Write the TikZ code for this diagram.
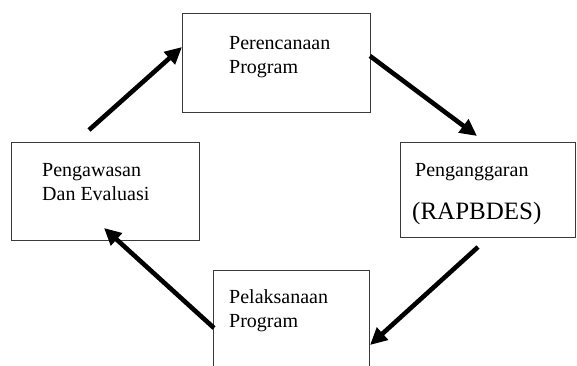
\documentclass[tikz,border=0pt]{standalone}
\usepackage{fontspec}
\setmainfont{Liberation Serif}
\usetikzlibrary{arrows.meta}
\definecolor{boxgray}{HTML}{3A3A3A}
\begin{document}
\begin{tikzpicture}[x=1pt,y=-1pt,
  box/.style={draw=boxgray, line width=1.2pt, inner sep=0pt, anchor=north west},
  lbl/.style={anchor=base west, inner sep=0pt, font=\fontsize{20}{24}\selectfont},
  biglbl/.style={anchor=base west, inner sep=0pt, font=\fontsize{25}{30}\selectfont},
  arr/.style={line width=4.6pt, -{Triangle[length=17pt,width=16pt]}}]
\useasboundingbox (0,0) rectangle (577,365);
% boxes
\node[box, minimum width=188pt, minimum height=99pt] (plan) at (182,13) {};
\node[box, minimum width=175pt, minimum height=95pt] (budget) at (400,142) {};
\node[box, minimum width=188pt, minimum height=98pt] (eval) at (10.5,141.5) {};
\node[box, minimum width=156pt, minimum height=120pt] (impl) at (213,270) {};
% texts
\node[lbl] (plan1) at (229,49) {Perencanaan};
\node[lbl] (plan2) at (229,73) {Program};
\node[lbl] (eval1) at (42,176) {Pengawasan};
\node[lbl] (eval2) at (42,200) {Dan Evaluasi};
\node[lbl] (budget1) at (415,176) {Penganggaran};
\node[biglbl] (budget2) at (412,219) {(RAPBDES)};
\node[lbl] (impl1) at (229,303) {Pelaksanaan};
\node[lbl] (impl2) at (229,327) {Program};
% arrow ends
\coordinate (a1s) at (89,130);
\coordinate (a1e) at (182,47);
\coordinate (a2s) at (370,56);
\coordinate (a2e) at (477,136);
\coordinate (a3s) at (478,247);
\coordinate (a3e) at (370,345);
\coordinate (a4s) at (214,328);
\coordinate (a4e) at (104,228);
\draw[arr] (a1s) -- (a1e);
\draw[arr] (a2s) -- (a2e);
\draw[arr] (a3s) -- (a3e);
\draw[arr] (a4s) -- (a4e);
\end{tikzpicture}
\end{document}
